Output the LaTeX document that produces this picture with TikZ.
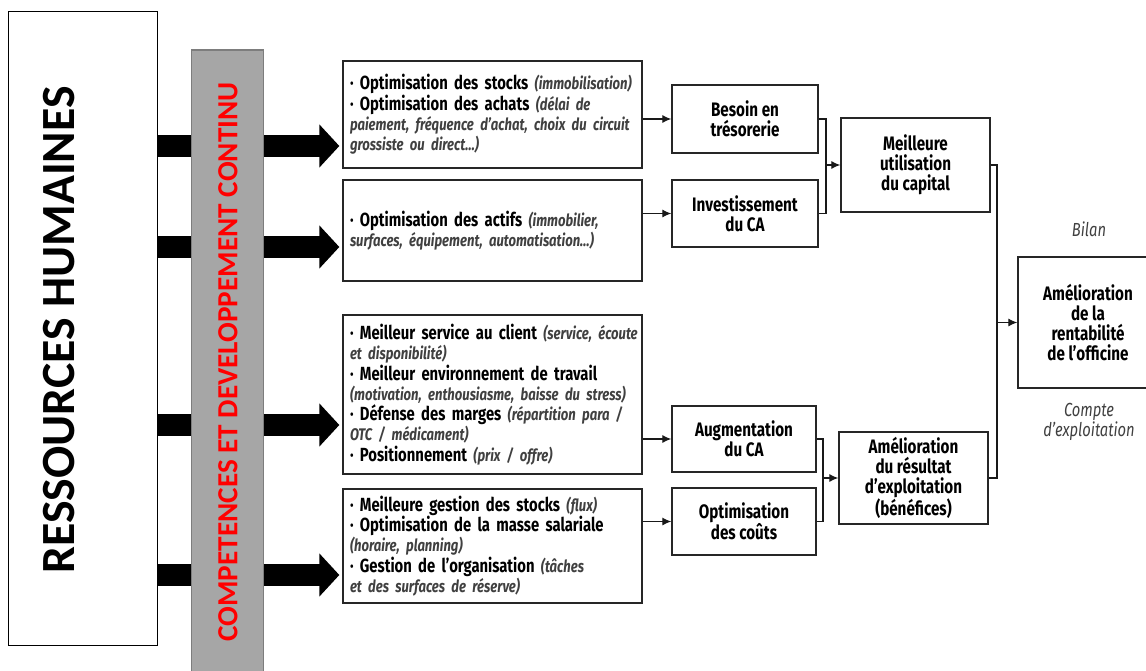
\documentclass[tikz,border=0pt]{standalone}
\usepackage{fontspec}
\setmainfont[FakeStretch=0.78]{Fira Sans}
\newfontfamily\carlito{Carlito}
\usetikzlibrary{arrows.meta,calc}
\newcommand\cmt[1]{{\fontsize{16.8}{20}\selectfont\itshape\color{black!75}#1}}
\begin{document}
\begin{tikzpicture}[x=1pt,y=-1pt,
  frame/.style={draw=black!85,line width=1.3pt,inner sep=0pt},
  listbox/.style={frame,align=left,text width=285pt,inner xsep=7pt,
     font=\fontsize{19}{20.3}\selectfont\bfseries},
  midbox/.style={frame,align=center,font=\fontsize{19.5}{20}\selectfont\bfseries},
  thin/.style={line width=1.2pt,draw=black!90},
  tip/.style={thin,-{Latex[length=9pt,width=8pt]}},
  fat/.style={line width=22pt,-{Triangle[length=20pt,width=42pt]},shorten >=3pt},
  note/.style={font=\fontsize{18.9}{20}\selectfont\itshape,text=black!75,align=center}
]
\useasboundingbox (0,0) rectangle (1146,671);

% left column
\node[draw=black,line width=1pt,minimum width=149pt,minimum height=633pt,inner sep=0pt] (rh) at (82.5,328.5) {};
\node[rotate=90] (rhtext) at (59,330) {\resizebox{487pt}{!}{\carlito\bfseries RESSOURCES HUMAINES}};

% list boxes
\node[listbox,minimum height=107pt] (A) at (492.5,114.5) {%
\mbox{· Optimisation des stocks \cmt{(immobilisation)}}\\
· Optimisation des achats \cmt{(délai de}\\
\mbox{\cmt{paiement, fréquence d’achat, choix du circuit}}\\
\cmt{grossiste ou direct…)}};
\node[listbox,minimum height=101pt] (B) at (492.5,230.5) {%
· Optimisation des actifs \cmt{(immobilier,}\\
\cmt{surfaces, équipement, automatisation…)}};
\node[listbox,minimum height=159pt] (C) at (492.5,394.5) {%
\mbox{· Meilleur service au client \cmt{(service, écoute}}\\
\cmt{et disponibilité)}\\
· Meilleur environnement de travail\\
\mbox{\cmt{(motivation, enthousiasme, baisse du stress)}}\\
· Défense des marges \cmt{(répartition para /}\\
\cmt{OTC / médicament)}\\
· Positionnement \cmt{(prix / offre)}};
\node[listbox,minimum height=114pt] (D) at (492.5,546) {%
· Meilleure gestion des stocks \cmt{(flux)}\\
· Optimisation de la masse salariale\\
\cmt{(horaire, planning)}\\
· Gestion de l'organisation \cmt{(tâches}\\
\cmt{et des surfaces de réserve)}};

% fat arrows (behind the grey bar)
\coordinate (y1) at (0,146);
\coordinate (y2) at (0,247);
\coordinate (y3) at (0,425);
\coordinate (y4) at (0,575);
\draw[fat] (rh.east |- y1) -- (A.west |- y1);
\draw[fat] (rh.east |- y2) -- (B.west |- y2);
\draw[fat] (rh.east |- y3) -- (C.west |- y3);
\draw[fat] (rh.east |- y4) -- (D.west |- y4);

% grey bar
\node[fill={rgb,255:red,166;green,166;blue,166},draw={rgb,255:red,125;green,125;blue,125},line width=1.5pt,
      minimum width=72pt,minimum height=640pt,inner sep=0pt] (bar) at (227.5,370) {};
\node[rotate=90,text=red] (bartext) at (228,362) {\resizebox{559pt}{!}{\carlito\bfseries COMPETENCES ET DEVELOPPEMENT CONTINU}};

% middle boxes
\node[midbox,minimum width=146pt,minimum height=68pt] (besoin) at (745,119) {Besoin en\\trésorerie};
\node[midbox,minimum width=146pt,minimum height=67pt] (invest) at (745,213.5) {Investissement\\du CA};
\node[midbox,minimum width=144pt,minimum height=66pt] (augm) at (744,439) {Augmentation\\du CA};
\node[midbox,minimum width=144pt,minimum height=67pt] (couts) at (744,521.5) {Optimisation\\des coûts};

\node[midbox,minimum width=149pt,minimum height=94pt] (capital) at (915.5,165) {Meilleure\\utilisation\\du capital};
\node[midbox,minimum width=149pt,minimum height=92pt] (resultat) at (913.5,478) {Amélioration\\du résultat\\d’exploitation\\(bénéfices)};

\node[midbox,minimum width=140pt,minimum height=131pt] (final) at (1088,322.5) {Amélioration\\de la\\rentabilité\\de l’officine};

\node[note] (bilan) at (1089,229) {Bilan};
\node[note] (compte) at (1089,422) {Compte\\d’exploitation};

% thin arrows
\draw[tip] (besoin.west -| A.east) -- (besoin.west);
\draw[tip] (invest.west -| B.east) -- (invest.west);
\draw[tip] (augm.west -| C.east) -- (augm.west);
\draw[tip] (couts.west -| D.east) -- (couts.west);

% brackets
\coordinate (b1) at (826,0);
\coordinate (b2) at (823,0);
\coordinate (b3) at (997,0);
\draw[thin] (besoin.east) -- (besoin.east -| b1) -- (invest.east -| b1) -- (invest.east);
\draw[tip] (capital.west -| b1) -- (capital.west);
\draw[thin] (augm.east) -- (augm.east -| b2) -- (couts.east -| b2) -- (couts.east);
\draw[tip] (resultat.west -| b2) -- (resultat.west);
\draw[thin] (capital.east) -- (capital.east -| b3) -- (resultat.east -| b3) -- (resultat.east);
\draw[tip] (final.west -| b3) -- (final.west);
\end{tikzpicture}
\end{document}
